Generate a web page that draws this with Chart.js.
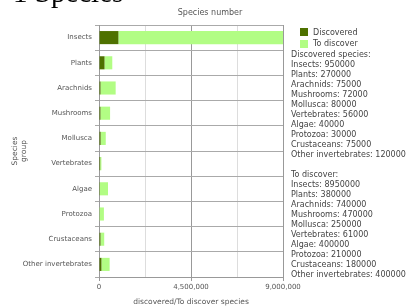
<!DOCTYPE html>
<html>
<head>
<meta charset="utf-8">
<script src="https://cdn.jsdelivr.net/npm/chart.js@4"></script>
<style>
  body { margin: 0; background: #fff; }
  #wrap { position: relative; width: 409px; height: 307px; overflow: hidden; }
  #heading { position: absolute; left: 13px; top: -22px; font: 29px "Liberation Serif", serif; line-height: 29px; color: #000; white-space: nowrap; }
  canvas { position: absolute; left: 0; top: 0; }
</style>
</head>
<body>
<div id="wrap">
  <canvas id="speciesChart" width="409" height="307"></canvas>
  <div id="heading">1 Species</div>
</div>
<script>
const categories = ["Insects", "Plants", "Arachnids", "Mushrooms", "Mollusca", "Vertebrates", "Algae", "Protozoa", "Crustaceans", "Other invertebrates"];
const discovered = [950000, 270000, 75000, 72000, 80000, 56000, 40000, 30000, 75000, 120000];
const toDiscover = [8950000, 380000, 740000, 470000, 250000, 61000, 400000, 210000, 180000, 400000];
const xMax = 9000000;
const xStep = 2250000;
const xLabelStep = 4500000;

const darkGreen = "#4e7100";
const lightGreen = "#b2fd84";
const textGrey = "#555";

// legend + value lists on the right side
const sideText = {
    id: "sideText",
    afterDraw(chart) {
        const ctx = chart.ctx;
        ctx.save();
        ctx.font = "8px 'DejaVu Sans'";
        ctx.textBaseline = "middle";
        ctx.fillStyle = "#555";
        ctx.textAlign = "center";
        ctx.fillText("Species number", 210, 13);
        ctx.textAlign = "left";

        ctx.fillStyle = darkGreen;
        ctx.fillRect(300, 28, 8, 8);
        ctx.fillStyle = lightGreen;
        ctx.fillRect(300, 40, 8, 8);
        ctx.fillStyle = "#444";
        ctx.fillText("Discovered", 313, 33);
        ctx.fillText("To discover", 313, 44);

        let y = 55;
        ctx.fillText("Discovered species:", 291, y);
        categories.forEach((c, i) => {
            y += 10;
            ctx.fillText(c + ": " + discovered[i], 291, y);
        });
        y += 20;
        ctx.fillText("To discover:", 291, y);
        categories.forEach((c, i) => {
            y += 10;
            ctx.fillText(c + ": " + toDiscover[i], 291, y);
        });
        ctx.restore();
    }
};

new Chart(document.getElementById("speciesChart"), {
    type: "bar",
    data: {
        labels: categories,
        datasets: [{
            label: "Discovered",
            data: discovered,
            backgroundColor: darkGreen
        }, {
            label: "To discover",
            data: toDiscover,
            backgroundColor: lightGreen
        }]
    },
    options: {
        indexAxis: "y",
        responsive: false,
        animation: false,
        layout: { padding: { left: 0, right: 126, top: 25, bottom: 0 } },
        plugins: {
            legend: { display: false },
            title: { display: false },
            tooltip: { enabled: false }
        },
        datasets: { bar: { barPercentage: 0.52, categoryPercentage: 1 } },
        scales: {
            x: {
                stacked: true,
                min: 0,
                max: xMax,
                afterFit: s => { s.height = 30; },
                ticks: {
                    stepSize: xStep,
                    padding: 2,
                    autoSkip: false,
                    maxRotation: 0,
                    color: textGrey,
                    font: { family: "DejaVu Sans", size: 7 },
                    callback: v => v % xLabelStep === 0 ? v.toLocaleString("en-US") : ""
                },
                grid: {
                    tickLength: 4,
                    color: c => c.tick && c.tick.value % xLabelStep === 0 ? "#999" : "#ddd",
                    tickColor: c => c.tick && c.tick.value % xLabelStep === 0 ? "#999" : "rgba(0,0,0,0)"
                },
                border: { color: "#999" },
                title: {
                    display: true,
                    text: "discovered/To discover species",
                    color: textGrey,
                    font: { family: "DejaVu Sans", size: 7.5 },
                    padding: { top: 0, bottom: 0 }
                }
            },
            y: {
                stacked: true,
                afterFit: s => { s.width = 99; },
                ticks: {
                    padding: 3,
                    color: textGrey,
                    font: { family: "DejaVu Sans", size: 7 }
                },
                grid: { tickLength: 4, color: "#aaa" },
                border: { color: "#999" },
                title: {
                    display: true,
                    text: ["Species", "group"],
                    color: textGrey,
                    font: { family: "DejaVu Sans", size: 7.5 },
                    padding: { top: 11, bottom: 0 }
                }
            }
        }
    },
    plugins: [sideText]
});
</script>
</body>
</html>
